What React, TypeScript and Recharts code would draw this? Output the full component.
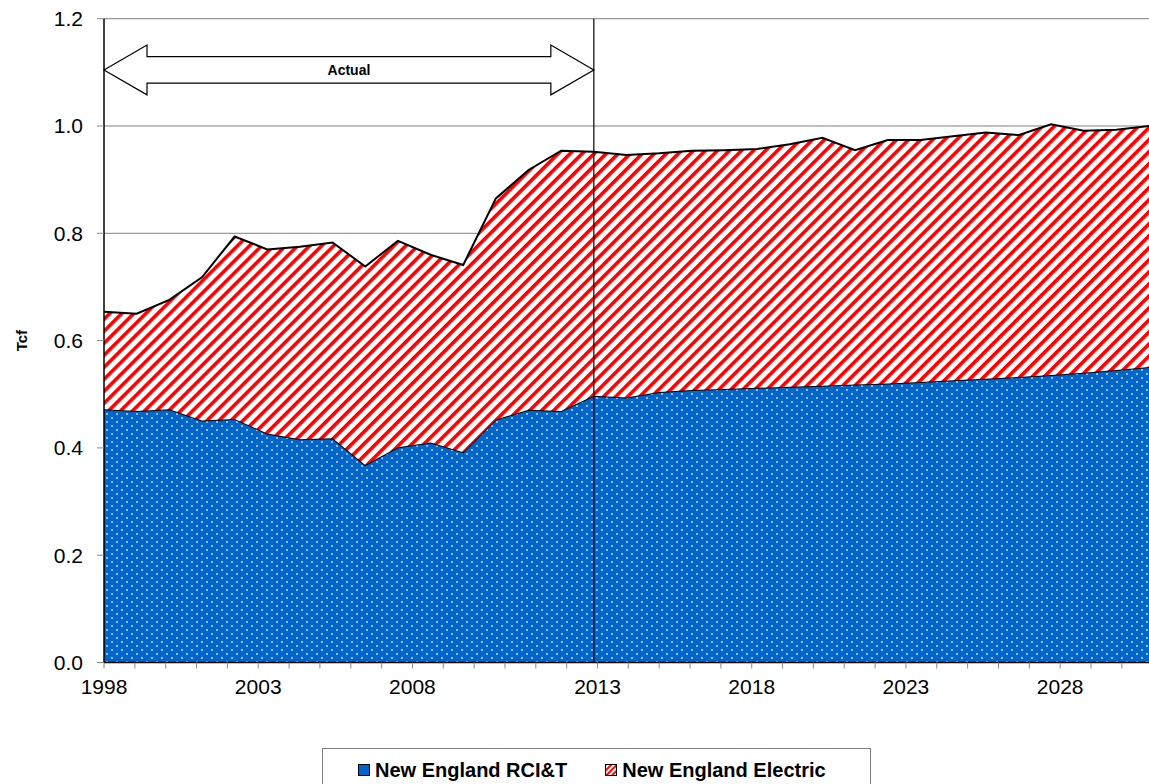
import { AreaChart, Area, XAxis, YAxis, CartesianGrid, ReferenceLine, ReferenceArea, Legend } from 'recharts'

const YEARS = [1998, 1999, 2000, 2001, 2002, 2003, 2004, 2005, 2006, 2007, 2008, 2009, 2010, 2011, 2012, 2013, 2014, 2015, 2016, 2017, 2018, 2019, 2020, 2021, 2022, 2023, 2024, 2025, 2026, 2027, 2028, 2029, 2030]
const RCIT = [0.472, 0.469, 0.472, 0.451, 0.454, 0.427, 0.416, 0.418, 0.368, 0.401, 0.41, 0.392, 0.453, 0.471, 0.469, 0.497, 0.494, 0.504, 0.508, 0.51, 0.512, 0.514, 0.516, 0.518, 0.52, 0.523, 0.526, 0.529, 0.532, 0.536, 0.54, 0.545, 0.551]
const ELECTRIC = [0.182, 0.181, 0.204, 0.267, 0.34, 0.343, 0.359, 0.365, 0.37, 0.385, 0.35, 0.349, 0.412, 0.447, 0.485, 0.455, 0.452, 0.445, 0.446, 0.445, 0.445, 0.452, 0.462, 0.437, 0.454, 0.451, 0.455, 0.459, 0.451, 0.467, 0.451, 0.448, 0.449]

// the original's date axis has its own tick slots (a bit narrower than a year),
// labelled every 5th slot with one skip
const TICK_SLOTS = [0, 5, 10, 16, 21, 26, 31]
const TICK_LABELS = ['1998', '2003', '2008', '2013', '2018', '2023', '2028']
const SLOT_COUNT = 34
const SLOT_YEARS = 32 / 33.88
const Y_TICKS = [0, 0.2, 0.4, 0.6, 0.8, 1.0, 1.2]

const SERIES = [
  { key: 'rcit', name: 'New England RCI&T', fill: 'url(#dots)', swatch: '#0066CC' },
  { key: 'electric', name: 'New England Electric', fill: 'url(#stripes)', swatch: 'url(#stripesL)' },
]

const data = YEARS.map((year, i) => ({ year, rcit: RCIT[i], electric: ELECTRIC[i] }))
const slotTicks = Array.from({ length: SLOT_COUNT }, (_, i) => YEARS[0] + i * SLOT_YEARS)

const FONT = '"Liberation Sans", Arial, sans-serif'

function ActualArrow(props: any) {
  const { x, y, width, height } = props
  const head = 43
  const inset = height * 0.235
  const mid = y + height / 2
  const pts = [
    [x, mid],
    [x + head, y],
    [x + head, y + inset],
    [x + width - head, y + inset],
    [x + width - head, y],
    [x + width, mid],
    [x + width - head, y + height],
    [x + width - head, y + height - inset],
    [x + head, y + height - inset],
    [x + head, y + height],
  ]
  return (
    <g>
      <polygon points={pts.map((p) => p.join(',')).join(' ')} fill="#fff" stroke="#000" strokeWidth={1.2} />
      <text x={x + width / 2} y={mid + 5} textAnchor="middle" fontFamily={FONT} fontWeight="bold" fontSize={14} fill="#000">
        Actual
      </text>
    </g>
  )
}

function renderLegend() {
  return (
    <div
      style={{
        width: 549,
        height: 44,
        border: '1px solid #808080',
        boxSizing: 'border-box',
        display: 'flex',
        alignItems: 'center',
        paddingLeft: 35,
        gap: 38,
        fontFamily: FONT,
        fontWeight: 'bold',
        fontSize: 20,
        color: '#000',
      }}
    >
      <svg width={0} height={0} style={{ position: 'absolute' }}>
        <defs>
          <pattern id="stripesL" width={4} height={4} patternUnits="userSpaceOnUse" patternTransform="rotate(45)">
            <rect width={4} height={4} fill="#fff" />
            <rect width={2} height={4} fill="#ff0000" />
          </pattern>
        </defs>
      </svg>
      {SERIES.map((s) => (
        <div key={s.key} style={{ display: 'flex', alignItems: 'center', gap: 5 }}>
          <svg width={12} height={12} style={{ display: 'block' }}>
            <rect x={0.5} y={0.5} width={11} height={11} fill={s.swatch} stroke="#000" strokeWidth={1} />
          </svg>
          <span>{s.name}</span>
        </div>
      ))}
    </div>
  )
}

export default function App() {
  return (
    <div style={{ position: 'absolute', left: 0, top: 0, width: 1149, height: 784, background: '#fff' }}>
      <AreaChart width={1149} height={784} data={data} margin={{ top: 18.7, right: 0, left: 0, bottom: 81.5 }}>
        <defs>
          <pattern id="dots" width={10} height={8} patternUnits="userSpaceOnUse">
            <rect width={10} height={8} fill="#0066CC" />
            <circle cx={2} cy={2} r={0.9} fill="#fff" fillOpacity={0.85} />
            <circle cx={7} cy={6} r={0.9} fill="#fff" fillOpacity={0.85} />
          </pattern>
          <pattern id="stripes" width={8.5} height={8.5} patternUnits="userSpaceOnUse" patternTransform="rotate(45)">
            <rect width={8.5} height={8.5} fill="#fff" />
            <rect width={3.6} height={8.5} fill="#ff0000" />
          </pattern>
        </defs>
        <CartesianGrid vertical={false} stroke="#808080" />
        <XAxis
          dataKey="year"
          type="number"
          domain={[1998, 2030]}
          allowDataOverflow
          ticks={slotTicks}
          interval={0}
          height={40}
          axisLine={{ stroke: '#000', strokeWidth: 1.5 }}
          tickLine={{ stroke: '#888' }}
          tickSize={6}
          tickMargin={11}
          tick={{ fill: '#000', fontSize: 21, fontFamily: FONT }}
          tickFormatter={(v: number) => {
            const slot = Math.round((v - YEARS[0]) / SLOT_YEARS)
            const i = TICK_SLOTS.indexOf(slot)
            return i >= 0 ? TICK_LABELS[i] : ''
          }}
        />
        <YAxis
          width={104}
          domain={[0, 1.2]}
          ticks={Y_TICKS}
          interval={0}
          axisLine={{ stroke: '#000', strokeWidth: 1.5 }}
          tickLine={{ stroke: '#888' }}
          tickSize={7}
          tickMargin={14}
          tick={{ fill: '#000', fontSize: 21, fontFamily: FONT }}
          tickFormatter={(v: number) => v.toFixed(1)}
          label={{ value: 'Tcf', angle: -90, position: 'insideLeft', offset: 22, style: { fontFamily: FONT, fontWeight: 'bold', fontSize: 15, fill: '#000', textAnchor: 'middle' } }}
        />
        {SERIES.map((s) => (
          <Area
            key={s.key}
            type="linear"
            dataKey={s.key}
            name={s.name}
            stackId="1"
            stroke="#000"
            strokeWidth={2}
            fill={s.fill}
            fillOpacity={1}
            isAnimationActive={false}
          />
        ))}
        <ReferenceLine x={2013} stroke="#000" strokeWidth={1.2} />
        <ReferenceArea x1={1998} x2={2013} y1={1.058} y2={1.151} shape={ActualArrow} />
        <Legend
          content={renderLegend}
          layout="vertical"
          align="center"
          verticalAlign="middle"
          wrapperStyle={{ position: 'absolute', left: 322, top: 748, width: 549, height: 44 }}
        />
      </AreaChart>
    </div>
  )
}
